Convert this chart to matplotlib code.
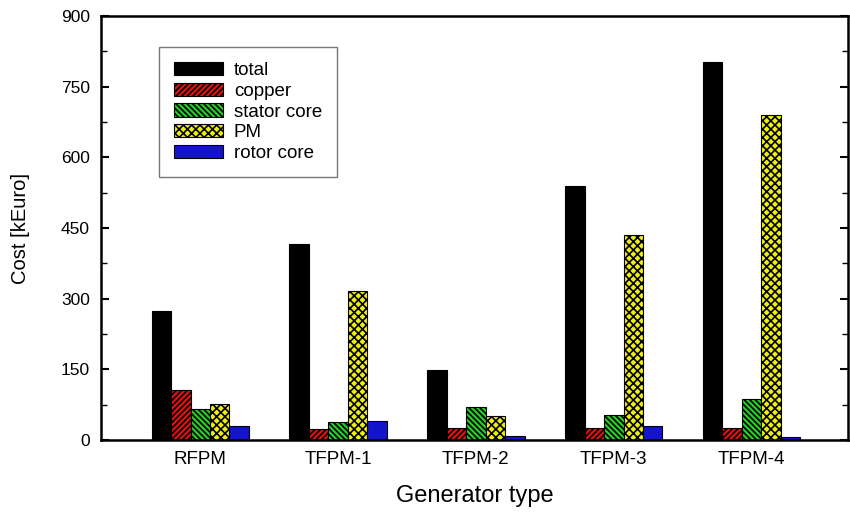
import numpy as np
import matplotlib.pyplot as plt
from matplotlib.ticker import MultipleLocator

plt.rcParams['font.family'] = ['Liberation Sans', 'DejaVu Sans']
plt.rcParams['hatch.linewidth'] = 1.2

generators = ['RFPM', 'TFPM-1', 'TFPM-2', 'TFPM-3', 'TFPM-4']
total = [273, 416, 149, 539, 803]
copper = [106, 23, 25, 25, 25]
stator_core = [66, 38, 70, 53, 87]
pm = [76, 316, 51, 435, 690]
rotor_core = [30, 40, 8, 30, 6]

series = [
    ('total', total, 'black', ''),
    ('copper', copper, '#e01010', '//////'),
    ('stator core', stator_core, '#26cc26', '\\\\\\\\\\\\'),
    ('PM', pm, '#eeee10', 'xxxx'),
    ('rotor core', rotor_core, '#1414cc', ''),
]

fig = plt.figure(figsize=(8.5, 5.12), dpi=100)
ax = fig.add_axes([0.1188, 0.1406, 0.879, 0.828])

x = np.arange(len(generators))
width = 0.141
for i, (name, vals, color, hatch) in enumerate(series):
    ax.bar(x + (i - 2) * width, vals, width, color=color, hatch=hatch,
           edgecolor='black', linewidth=0.8, label=name)

ax.set_xlim(-0.72, 4.70)
ax.set_ylim(0, 900)
ax.set_xticks(x)
ax.set_xticklabels(generators)
ax.yaxis.set_major_locator(MultipleLocator(150))
ax.yaxis.set_minor_locator(MultipleLocator(75))
ax.tick_params(axis='y', which='both', direction='in', right=True, labelsize=12.5, pad=8)
ax.tick_params(axis='y', which='major', length=6, width=1.5)
ax.tick_params(axis='y', which='minor', length=4, width=1)
ax.tick_params(axis='x', length=0, labelsize=13.5, pad=8)
for s in ax.spines.values():
    s.set_linewidth(1.8)

ax.set_ylabel('Cost [kEuro]', fontsize=14.5, labelpad=22)
ax.set_xlabel('Generator type', fontsize=17, labelpad=12)

leg = ax.legend(loc='upper left', bbox_to_anchor=(0.065, 0.95), fontsize=13.5,
                handlelength=2.6, handleheight=0.7, labelspacing=0.2,
                handletextpad=0.6, borderpad=0.8, fancybox=False)
leg.get_frame().set_edgecolor('#555555')
leg.get_frame().set_linewidth(1.0)

fig.savefig('out.png', dpi=100)
